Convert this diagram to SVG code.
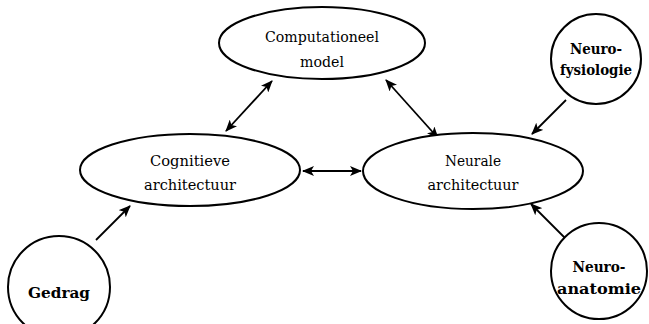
<svg xmlns="http://www.w3.org/2000/svg" width="649" height="324" viewBox="0 0 649 324">
<defs>
<marker id="ah" viewBox="0 0 12 10" refX="11" refY="5" markerWidth="12" markerHeight="10" markerUnits="userSpaceOnUse" orient="auto-start-reverse">
<path d="M0,0 L12,5 L0,10 L3,5 Z" fill="#000"/>
</marker>
<style>
.sh{fill:#fff;stroke:#000;stroke-width:2}
.t{font-family:"DejaVu Serif",serif;font-size:15px;text-anchor:middle;fill:#000}
.b{font-weight:bold}
.c{stroke:#000;stroke-width:1.8;fill:none}
</style>
</defs>
<rect width="649" height="324" fill="#fff"/>
<g id="connectors">
<line class="c" x1="226" y1="131" x2="272" y2="81" marker-start="url(#ah)" marker-end="url(#ah)"/>
<line class="c" x1="386" y1="80" x2="438" y2="138" marker-start="url(#ah)" marker-end="url(#ah)"/>
<line class="c" x1="303" y1="171" x2="361" y2="171" marker-start="url(#ah)" marker-end="url(#ah)"/>
<line class="c" x1="566" y1="100" x2="532" y2="134" marker-end="url(#ah)"/>
<line class="c" x1="96" y1="240" x2="130" y2="206" marker-end="url(#ah)"/>
<line class="c" x1="565" y1="238" x2="531" y2="204" marker-end="url(#ah)"/>
</g>
<g id="computationeel">
<ellipse class="sh" cx="322" cy="43" rx="103" ry="36"/>
<text class="t" x="322" y="42" textLength="114" lengthAdjust="spacingAndGlyphs">Computationeel</text>
<text class="t" x="322" y="67" textLength="44" lengthAdjust="spacingAndGlyphs">model</text>
</g>
<g id="cognitieve">
<ellipse class="sh" cx="190" cy="170" rx="110" ry="36"/>
<text class="t" x="190" y="166" textLength="80" lengthAdjust="spacingAndGlyphs">Cognitieve</text>
<text class="t" x="190" y="190" textLength="92" lengthAdjust="spacingAndGlyphs">architectuur</text>
</g>
<g id="neurale">
<ellipse class="sh" cx="473" cy="171" rx="110" ry="38"/>
<text class="t" x="473" y="166" textLength="56" lengthAdjust="spacingAndGlyphs">Neurale</text>
<text class="t" x="473" y="190" textLength="91" lengthAdjust="spacingAndGlyphs">architectuur</text>
</g>
<g id="neurofysiologie">
<circle class="sh" cx="596" cy="59" r="45"/>
<text class="t b" x="596" y="54" textLength="52" lengthAdjust="spacingAndGlyphs">Neuro-</text>
<text class="t b" x="596" y="75" textLength="72" lengthAdjust="spacingAndGlyphs">fysiologie</text>
</g>
<g id="gedrag">
<circle class="sh" cx="59" cy="287" r="51"/>
<text class="t b" x="59" y="298" textLength="62" lengthAdjust="spacingAndGlyphs">Gedrag</text>
</g>
<g id="neuroanatomie">
<circle class="sh" cx="599" cy="271" r="48"/>
<text class="t b" x="599" y="272" textLength="53" lengthAdjust="spacingAndGlyphs">Neuro-</text>
<text class="t b" x="599" y="294" textLength="84" lengthAdjust="spacingAndGlyphs">anatomie</text>
</g>
</svg>
